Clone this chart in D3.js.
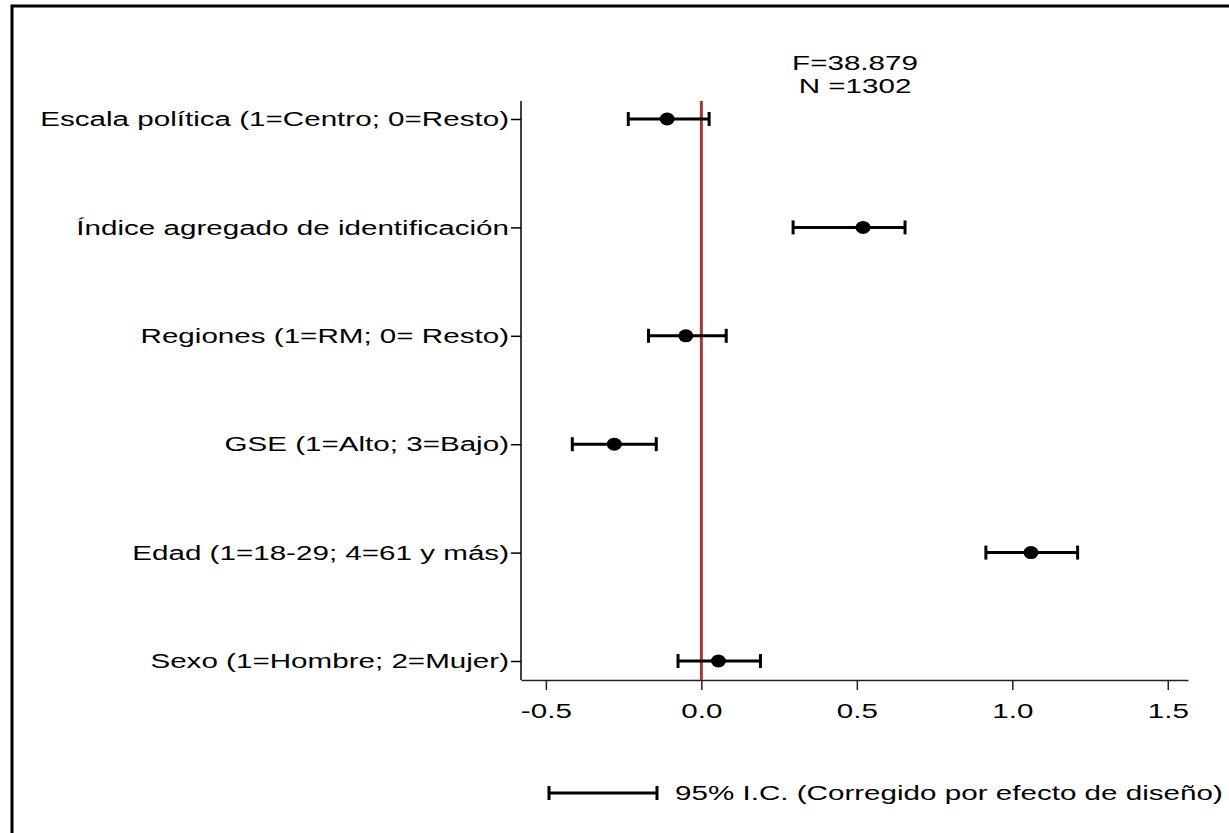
<!DOCTYPE html>
<html>
<head>
<meta charset="utf-8">
<script src="https://cdn.jsdelivr.net/npm/d3@7"></script>
<style>
  body { margin: 0; background: #fff; }
  text { font-family: 'Liberation Sans', Arial, sans-serif; }
</style>
</head>
<body>
<div id="chart"></div>
<script>
// Data
const categories = [
    'Escala política (1=Centro; 0=Resto)',
    'Índice agregado de identificación',
    'Regiones (1=RM; 0= Resto)',
    'GSE (1=Alto; 3=Bajo)',
    'Edad (1=18-29; 4=61 y más)',
    'Sexo (1=Hombre; 2=Mujer)'
];
const estimates = [-0.11, 0.52, -0.05, -0.28, 1.06, 0.055];
const lower = [-0.235, 0.295, -0.17, -0.415, 0.915, -0.075];
const upper = [0.025, 0.655, 0.08, -0.145, 1.21, 0.19];
const tickValues = [-0.5, 0, 0.5, 1.0, 1.5];
const tickLabels = ['-0.5', '0.0', '0.5', '1.0', '1.5'];
const statLines = ['F=38.879', 'N =1302'];
const legendLabel = '95% I.C. (Corregido por efecto de diseño)';

const data = categories.map((c, i) => ({ cat: c, est: estimates[i], lo: lower[i], hi: upper[i] }));

let width = 1229, height = 833;
const fontSize = 21, stretch = 1.41;  // the original text is drawn wide

let svg = d3.select('#chart')
            .append('svg')
            .attr('width', width)
            .attr('height', height);

// outer frame (right and bottom edges run off the page)
svg.append('path')
   .attr('d', `M12,${height + 10} L12,6 L${width + 10},6`)
   .attr('fill', 'none')
   .attr('stroke', '#000')
   .attr('stroke-width', 3);

// scales
let xscale = d3.scaleLinear()
               .domain([-0.58, 1.565])
               .range([521, 1188]);

let yscale = d3.scalePoint()
               .domain(categories)
               .range([119, 661]);

const axisY = 680, axisTop = 101;

// x axis
let xaxis = svg.append('g')
   .attr('transform', `translate(0, ${axisY})`)
   .call(d3.axisBottom(xscale)
           .tickValues(tickValues)
           .tickFormat((d, i) => tickLabels[i])
           .tickSize(10)
           .tickSizeOuter(0)
           .tickPadding(13));
xaxis.select('.domain').attr('stroke', '#222').attr('stroke-width', 1.5);
xaxis.selectAll('.tick line').attr('stroke', '#222').attr('stroke-width', 1.5);
xaxis.selectAll('.tick text')
     .style('font-size', fontSize + 'px')
     .attr('fill', '#000')
     .attr('transform', `scale(${stretch},1)`);

// y axis
let yaxis = svg.append('g')
   .attr('transform', `translate(${xscale.range()[0]}, 0)`)
   .call(d3.axisLeft(yscale)
           .tickSize(10)
           .tickSizeOuter(0));
yaxis.select('.domain')
     .attr('d', `M0,${axisTop}V${axisY}`)
     .attr('stroke', '#000')
     .attr('stroke-width', 1.5);
yaxis.selectAll('.tick line').attr('stroke', '#000').attr('stroke-width', 1.5);
yaxis.selectAll('.tick text')
     .style('font-size', fontSize + 'px')
     .attr('fill', '#000')
     .attr('x', -12 / stretch)
     .attr('transform', `scale(${stretch},1)`);

// reference line at zero
svg.append('line')
   .attr('x1', xscale(0)).attr('x2', xscale(0))
   .attr('y1', axisTop).attr('y2', axisY)
   .attr('stroke', '#a33a3a')
   .attr('stroke-width', 3);

// error bars
const capH = 7;
let bars = svg.selectAll('.bar')
   .data(data)
   .enter()
   .append('g')
   .attr('class', 'bar');

bars.append('line')
    .attr('x1', d => xscale(d.lo)).attr('x2', d => xscale(d.hi))
    .attr('y1', d => yscale(d.cat)).attr('y2', d => yscale(d.cat))
    .attr('stroke', '#000').attr('stroke-width', 3);

bars.append('line')
    .attr('x1', d => xscale(d.lo)).attr('x2', d => xscale(d.lo))
    .attr('y1', d => yscale(d.cat) - capH).attr('y2', d => yscale(d.cat) + capH)
    .attr('stroke', '#000').attr('stroke-width', 3);

bars.append('line')
    .attr('x1', d => xscale(d.hi)).attr('x2', d => xscale(d.hi))
    .attr('y1', d => yscale(d.cat) - capH).attr('y2', d => yscale(d.cat) + capH)
    .attr('stroke', '#000').attr('stroke-width', 3);

bars.append('ellipse')
    .attr('cx', d => xscale(d.est))
    .attr('cy', d => yscale(d.cat))
    .attr('rx', 7.5).attr('ry', 6.5)
    .attr('fill', '#000');

// F and N
svg.selectAll('.stat')
   .data(statLines)
   .enter()
   .append('text')
   .attr('class', 'stat')
   .attr('transform', (d, i) => `translate(855, ${70 + i * 23}) scale(${stretch},1)`)
   .style('text-anchor', 'middle')
   .style('font-size', fontSize + 'px')
   .text(d => d);

// legend
const legY = 793, legX1 = 549, legX2 = 657;
let legend = svg.append('g');
legend.append('line')
      .attr('x1', legX1).attr('x2', legX2).attr('y1', legY).attr('y2', legY)
      .attr('stroke', '#000').attr('stroke-width', 3);
[legX1, legX2].forEach(x => {
    legend.append('line')
          .attr('x1', x).attr('x2', x).attr('y1', legY - capH).attr('y2', legY + capH)
          .attr('stroke', '#000').attr('stroke-width', 3);
});
legend.append('text')
      .attr('transform', `translate(675, ${legY + 7}) scale(${stretch},1)`)
      .style('font-size', fontSize + 'px')
      .text(legendLabel);
</script>
</body>
</html>
